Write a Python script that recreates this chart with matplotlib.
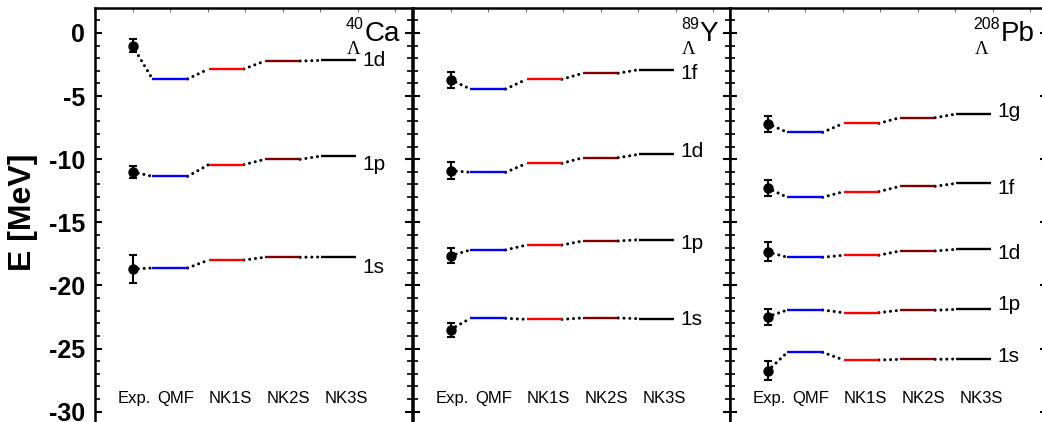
import matplotlib
matplotlib.use("Agg")
import matplotlib.pyplot as plt
from matplotlib.ticker import MultipleLocator

plt.rcParams["font.family"] = ["Liberation Sans", "DejaVu Sans"]
plt.rcParams["axes.unicode_minus"] = False

# ---------------------------------------------------------------------------
# Data (MeV)
# ---------------------------------------------------------------------------
methods = ["Exp.", "QMF", "NK1S", "NK2S", "NK3S"]

ca_levels = ["1s", "1p", "1d"]
ca_exp = [-18.7, -11.0, -1.0]
ca_err = [1.1, 0.5, 0.5]
ca_qmf = [-18.62, -11.36, -3.64]
ca_nk1s = [-17.99, -10.43, -2.85]
ca_nk2s = [-17.77, -10.01, -2.22]
ca_nk3s = [-17.75, -9.75, -2.17]
ca_label_y = [-18.6, -10.4, -2.2]

y_levels = ["1s", "1p", "1d", "1f"]
y_exp = [-23.5, -17.65, -10.9, -3.7]
y_err = [0.55, 0.6, 0.65, 0.62]
y_qmf = [-22.61, -17.19, -11.04, -4.44]
y_nk1s = [-22.69, -16.80, -10.33, -3.67]
y_nk2s = [-22.58, -16.48, -9.88, -3.19]
y_nk3s = [-22.64, -16.38, -9.61, -2.90]
y_label_y = [-22.74, -16.66, -9.4, -3.2]

pb_levels = ["1s", "1p", "1d", "1f", "1g"]
pb_exp = [-26.78, -22.48, -17.35, -12.28, -7.18]
pb_err = [0.75, 0.63, 0.75, 0.63, 0.63]
pb_qmf = [-25.30, -21.95, -17.77, -13.02, -7.87]
pb_nk1s = [-25.91, -22.16, -17.61, -12.57, -7.16]
pb_nk2s = [-25.86, -21.97, -17.27, -12.15, -6.71]
pb_nk3s = [-25.83, -21.90, -17.14, -11.91, -6.42]
pb_label_y = [-25.64, -21.55, -17.46, -12.31, -6.23]

# (mass number, element, levels, exp, err, model series, level-label y)
panels = [
    ("40", "Ca", ca_levels, ca_exp, ca_err, [ca_qmf, ca_nk1s, ca_nk2s, ca_nk3s], ca_label_y),
    ("89", "Y", y_levels, y_exp, y_err, [y_qmf, y_nk1s, y_nk2s, y_nk3s], y_label_y),
    ("208", "Pb", pb_levels, pb_exp, pb_err, [pb_qmf, pb_nk1s, pb_nk2s, pb_nk3s], pb_label_y),
]

# ---------------------------------------------------------------------------
# Layout / style
# ---------------------------------------------------------------------------
x_pos = [1.0, 2.0, 3.5, 5.0, 6.5]           # Exp, QMF, NK1S, NK2S, NK3S
label_x = [1.05, 2.16, 3.6, 5.15, 6.7]
half_w = 0.47
model_colors = ["#0000ff", "#ff0000", "#800000", "#000000"]

W, H = 1042, 422
px_per_mev = 12.62
y_top = (33 - 8) / px_per_mev               # E at top spine
ax_h_px = 430 - 8                           # bottom spine just below the image
y_bot = y_top - ax_h_px / px_per_mev
panel_left = [95, 413, 730]
panel_w = 317

fig = plt.figure(figsize=(W / 100, H / 100), dpi=100)

for i, (mass, elem, levels, exp, err, models, lab_y) in enumerate(panels):
    ax = fig.add_axes([panel_left[i] / W, 1 - 430 / H, panel_w / W, ax_h_px / H])
    ax.set_xlim(0, panel_w / 37.5)
    ax.set_ylim(y_bot, y_top)

    for j in range(len(levels)):
        vals = [m[j] for m in models]
        # dotted connectors between neighbouring levels
        xs_start = [x_pos[0]] + [x_pos[k + 1] + half_w for k in range(3)]
        ys_start = [exp[j]] + vals[:3]
        for k in range(4):
            ax.plot([xs_start[k], x_pos[k + 1] - half_w], [ys_start[k], vals[k]],
                    color="black", lw=2.2, linestyle=(0, (0.01, 1.9)),
                    dash_capstyle="round", zorder=2)
        # model levels
        for k in range(4):
            ax.plot([x_pos[k + 1] - half_w, x_pos[k + 1] + half_w], [vals[k], vals[k]],
                    color=model_colors[k], lw=1.7, solid_capstyle="butt", zorder=3)
        ax.text(7.12, lab_y[j], levels[j], fontsize=15, ha="left", va="center")

    ax.errorbar([x_pos[0]] * len(exp), exp, yerr=err, fmt="o", color="black",
                ms=6.5, capsize=3, elinewidth=1.5, capthick=1.5, zorder=4)

    for lx, name in zip(label_x, methods):
        ax.text(lx, -29.0, name, fontsize=12, ha="center", va="center")

    # nucleus label: superscript mass number, Lambda subscript
    main = ax.text(8.13, -0.65, elem, fontsize=20, ha="right", va="baseline")
    sup = ax.annotate(mass, xy=(0, 1), xycoords=main, xytext=(-0.5, 3),
                      textcoords="offset points", fontsize=11.5, ha="right", va="top")
    ax.annotate("\u039b", xy=(0, 0), xycoords=sup, xytext=(0.5, -6.5),
                textcoords="offset points", fontsize=13.5, ha="left", va="top",
                family=["Liberation Serif", "DejaVu Serif"])

    # axes styling
    for sp in ax.spines.values():
        sp.set_linewidth(1.8)
    ax.yaxis.set_major_locator(MultipleLocator(5))
    ax.yaxis.set_minor_locator(MultipleLocator(1))
    ax.tick_params(axis="y", which="major", direction="in", left=True, right=True,
                   length=5, width=1.5, pad=7)
    ax.tick_params(axis="y", which="minor", direction="in", left=True, right=True,
                   length=3.5, width=1.2)
    ax.set_xticks(range(1, 9))
    ax.tick_params(axis="x", which="major", direction="in", top=True, bottom=False,
                   labelbottom=False, length=3, width=0.6, color="#555555")
    if i == 0:
        for lbl in ax.get_yticklabels():
            lbl.set_fontsize(18)
            lbl.set_fontweight("bold")
    else:
        ax.tick_params(axis="y", labelleft=False)

fig.text(22.5 / W, 1 - 212 / H, "E [MeV]", rotation=90, fontsize=23,
         fontweight="bold", ha="center", va="center")

fig.savefig("out.png", dpi=100)
